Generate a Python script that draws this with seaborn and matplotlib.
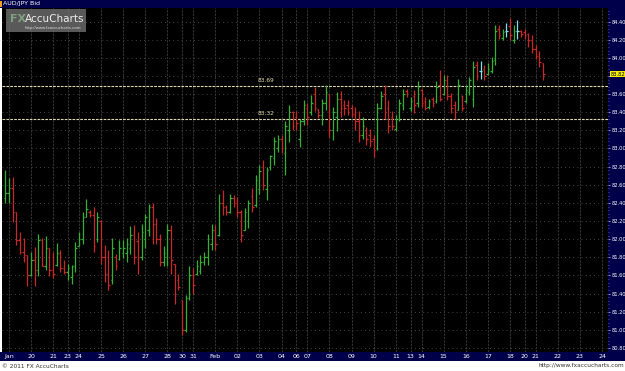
import numpy as np
import pandas as pd
import matplotlib
matplotlib.use("Agg")
import matplotlib.pyplot as plt
from matplotlib.patches import Rectangle
import seaborn as sns

# ---------------- data (AUD/JPY Bid, 4-hour bars) ----------------
highs = [82.76, 82.67, 82.69, 82.30, 82.08, 82.01, 81.83, 81.86, 81.91, 82.06,
         82.01, 82.03, 81.90, 81.86, 81.96, 81.88, 81.77, 81.73, 81.72, 81.97,
         82.08, 82.30, 82.44, 82.32, 82.36, 82.30, 82.21, 81.94, 81.88, 82.01,
         81.84, 81.99, 81.99, 82.01, 82.14, 82.16, 82.08, 82.17, 82.28, 82.39,
         82.40, 82.23, 82.06, 81.92, 82.17, 82.16, 81.73, 81.62, 81.33, 81.39,
         81.70, 81.68, 81.77, 81.83, 81.86, 82.06, 82.17, 82.16, 82.50, 82.54,
         82.38, 82.50, 82.49, 82.47, 82.32, 82.34, 82.43, 82.56, 82.71, 82.82,
         82.87, 82.80, 82.93, 83.13, 83.15, 83.15, 83.30, 83.48, 83.41, 83.41,
         83.33, 83.53, 83.50, 83.59, 83.68, 83.44, 83.55, 83.70, 83.60, 83.46,
         83.62, 83.63, 83.53, 83.53, 83.48, 83.46, 83.41, 83.35, 83.24, 83.22,
         83.15, 83.50, 83.63, 83.70, 83.53, 83.41, 83.37, 83.55, 83.66, 83.66,
         83.57, 83.64, 83.74, 83.66, 83.57, 83.55, 83.57, 83.74, 83.87, 83.81,
         83.81, 83.61, 83.52, 83.77, 83.59, 83.70, 83.79, 83.96, 83.96, 83.96,
         83.92, 83.94, 84.01, 84.36, 84.36, 84.32, 84.38, 84.44, 84.36, 84.42,
         84.31, 84.32, 84.27, 84.25, 84.14, 84.07, 83.94]
lows = [82.40, 82.40, 82.19, 81.94, 81.84, 81.75, 81.48, 81.59, 81.48, 81.59,
        81.70, 81.66, 81.59, 81.57, 81.70, 81.64, 81.62, 81.55, 81.51, 81.64,
        81.92, 81.95, 82.25, 82.25, 81.86, 81.97, 81.73, 81.53, 81.44, 81.51,
        81.66, 81.77, 81.79, 81.75, 81.84, 81.73, 81.62, 81.77, 81.90, 82.03,
        81.95, 81.95, 81.70, 81.70, 81.70, 81.62, 81.28, 81.44, 80.94, 80.98,
        81.33, 81.40, 81.61, 81.62, 81.72, 81.72, 81.88, 81.88, 82.03, 82.27,
        82.27, 82.29, 82.36, 82.25, 81.97, 82.10, 82.12, 82.30, 82.36, 82.50,
        82.54, 82.43, 82.76, 82.82, 82.96, 82.95, 82.71, 83.07, 83.20, 83.20,
        83.02, 83.26, 83.26, 83.37, 83.41, 83.34, 83.26, 83.42, 83.13, 83.09,
        83.19, 83.35, 83.37, 83.37, 83.35, 83.20, 83.07, 83.11, 83.04, 83.02,
        82.91, 82.98, 83.44, 83.33, 83.17, 83.20, 83.19, 83.30, 83.42, 83.57,
        83.41, 83.39, 83.46, 83.46, 83.42, 83.44, 83.46, 83.50, 83.52, 83.59,
        83.53, 83.39, 83.33, 83.42, 83.41, 83.50, 83.59, 83.46, 83.76, 83.77,
        83.76, 83.81, 83.83, 83.92, 84.21, 84.20, 84.23, 84.20, 84.16, 84.21,
        84.23, 84.21, 84.12, 84.05, 83.99, 83.90, 83.76]
opens = [82.45, 82.51, 82.56, 82.30, 81.99, 81.86, 81.83, 81.60, 81.77, 81.66,
         81.99, 81.70, 81.90, 81.66, 81.72, 81.85, 81.68, 81.64, 81.58, 81.70,
         81.92, 82.00, 82.25, 82.30, 82.27, 82.00, 82.20, 81.80, 81.62, 81.55,
         81.80, 81.78, 81.85, 81.85, 81.90, 82.05, 81.98, 81.80, 82.00, 82.10,
         82.35, 82.17, 82.00, 81.75, 81.80, 82.10, 81.73, 81.55, 81.33, 81.00,
         81.35, 81.60, 81.62, 81.65, 81.75, 81.80, 81.95, 82.10, 82.05, 82.40,
         82.35, 82.30, 82.45, 82.42, 82.30, 82.10, 82.20, 82.48, 82.38, 82.55,
         82.80, 82.55, 82.80, 82.90, 83.00, 83.10, 82.95, 83.20, 83.40, 83.35,
         83.10, 83.30, 83.45, 83.40, 83.60, 83.44, 83.37, 83.50, 83.60, 83.20,
         83.35, 83.55, 83.48, 83.48, 83.45, 83.38, 83.30, 83.15, 83.20, 83.15,
         83.10, 83.00, 83.45, 83.60, 83.45, 83.35, 83.22, 83.32, 83.48, 83.63,
         83.45, 83.58, 83.50, 83.65, 83.52, 83.46, 83.55, 83.52, 83.70, 83.60,
         83.75, 83.58, 83.48, 83.42, 83.58, 83.52, 83.62, 83.55, 83.92, 83.85,
         83.88, 83.82, 83.85, 83.98, 84.32, 84.22, 84.30, 84.35, 84.20, 84.30,
         84.30, 84.28, 84.26, 84.20, 84.10, 84.02, 83.94]
closes = [82.51, 82.56, 82.30, 81.99, 81.86, 81.83, 81.60, 81.77, 81.66, 81.99,
          81.70, 81.90, 81.66, 81.62, 81.85, 81.68, 81.64, 81.68, 81.70, 81.90,
          82.00, 82.25, 82.33, 82.27, 81.92, 82.25, 81.80, 81.62, 81.50, 81.90,
          81.70, 81.90, 81.90, 81.95, 82.05, 81.80, 81.80, 82.08, 82.25, 82.35,
          82.17, 82.00, 81.75, 81.85, 82.10, 81.77, 81.40, 81.47, 81.00, 81.35,
          81.60, 81.50, 81.70, 81.75, 81.80, 82.00, 82.10, 81.95, 82.40, 82.35,
          82.30, 82.45, 82.40, 82.30, 82.05, 82.30, 82.40, 82.35, 82.65, 82.75,
          82.60, 82.76, 82.92, 83.08, 83.10, 83.00, 83.25, 83.40, 83.25, 83.28,
          83.30, 83.48, 83.35, 83.50, 83.45, 83.37, 83.50, 83.62, 83.20, 83.40,
          83.55, 83.45, 83.45, 83.40, 83.38, 83.30, 83.15, 83.25, 83.10, 83.08,
          82.98, 83.45, 83.58, 83.40, 83.25, 83.25, 83.33, 83.50, 83.60, 83.60,
          83.52, 83.48, 83.68, 83.50, 83.45, 83.52, 83.50, 83.68, 83.55, 83.75,
          83.58, 83.45, 83.40, 83.70, 83.45, 83.65, 83.75, 83.90, 83.80, 83.85,
          83.80, 83.88, 83.97, 84.30, 84.25, 84.28, 84.30, 84.25, 84.30, 84.30,
          84.26, 84.25, 84.20, 84.10, 84.02, 83.95, 83.82]

day_labels = ["Jan", "20", "21", "23", "24", "25", "26", "27", "28", "30", "31",
              "Feb", "02", "03", "04", "06", "07", "08", "09", "10", "11", "13",
              "14", "15", "16", "17", "18", "20", "21", "22", "23", "24"]
bars_per_session = [6, 6, 4, 3, 6, 6, 6, 6, 4, 3, 6, 6, 6, 6, 4, 3, 6, 6, 6, 6,
                    4, 3, 6, 6, 6, 6, 4, 3, 6, 6, 6]
level_lines = [83.69, 83.32]
last_price = 83.82
price_ticks = [80.80, 81.00, 81.20, 81.40, 81.60, 81.80, 82.00, 82.20, 82.40,
               82.60, 82.80, 83.00, 83.20, 83.40, 83.60, 83.80, 84.00, 84.20, 84.40]

df = pd.DataFrame({"open": opens, "high": highs, "low": lows, "close": closes})
df["idx"] = np.arange(len(df))
tick_pos = 1 + np.concatenate([[0], np.cumsum(bars_per_session)])

# ---------------- style ----------------
sns.set_theme(style="dark")
plt.rcParams["font.family"] = ["DejaVu Sans"]

NAVY = "#00004a"
GREEN = "#35b035"
RED = "#c82828"
CYAN = "#7fe0ea"

fig = plt.figure(figsize=(6.25, 3.71), dpi=100)
fig.patch.set_facecolor("white")
W, H = 625.0, 371.0

def fx(px):
    return px / W

def fy(py):
    return 1 - py / H

# navy frame bands (header, right axis, bottom axis)
fig.add_artist(Rectangle((0, fy(8)), 1, 8 / H, transform=fig.transFigure,
                         facecolor=NAVY, edgecolor="none", zorder=0))
fig.add_artist(Rectangle((fx(608), fy(361)), 17 / W, 353 / H, transform=fig.transFigure,
                         facecolor=NAVY, edgecolor="none", zorder=0))
fig.add_artist(Rectangle((0, fy(361)), 1, 9.5 / H, transform=fig.transFigure,
                         facecolor=NAVY, edgecolor="none", zorder=0))

ax = fig.add_axes([fx(2), fy(352), (608 - 2) / W, (352 - 8) / H])
ax.set_facecolor("black")

# grid
for t in price_ticks:
    ax.axhline(t, color="#5a5a5a", lw=0.6, ls=(0, (1, 4)), zorder=1)
for t in tick_pos:
    ax.axvline(t, color="#333333", lw=0.8, ls=(0, (2, 1)), zorder=1)

# OHLC bars
colors = np.where(df["close"] > df["open"], GREEN,
                  np.where(df["close"] < df["open"], RED, CYAN))
ax.vlines(df["idx"], df["low"], df["high"], colors=colors, lw=0.9, zorder=3)
ax.hlines(df["open"], df["idx"] - 0.42, df["idx"], colors=colors, lw=0.9, zorder=3)
ax.hlines(df["close"], df["idx"], df["idx"] + 0.42, colors=colors, lw=0.9, zorder=3)

# level lines
for lv in level_lines:
    ax.axhline(lv, color="#d9d6b0", lw=0.8, ls=(0, (2.5, 1)), zorder=2)
    ax.text(68.5, lv + 0.035, f"{lv:.2f}", color="#e6e2a8", fontsize=4.2,
            ha="left", va="bottom", zorder=4)

ax.set_xlim(-0.87, 163.6)
ax.set_ylim(80.756, 84.549)

# axes ticks / labels (the 83.80 label is hidden behind the last-price marker)
ax.yaxis.tick_right()
ax.set_yticks(price_ticks)
ax.set_yticklabels(["" if abs(t - 83.80) < 1e-6 else f"{t:.2f}" for t in price_ticks])
ax.set_yticks(np.arange(80.80, 84.55, 0.04), minor=True)
ax.tick_params(axis="y", which="major", colors="#d0d0ff", labelcolor="white",
               labelsize=3.7, length=1.5, width=0.5, pad=0.8, direction="out")
ax.tick_params(axis="y", which="minor", colors="#9090c0", length=0.8, width=0.4,
               direction="out")
ax.set_xticks(tick_pos)
ax.set_xticklabels(day_labels)
ax.tick_params(axis="x", labelcolor="white", labelsize=4.5, length=0, pad=1.6)
ax.grid(False)
for s in ax.spines.values():
    s.set_visible(False)
ax.set_xlabel("")
ax.set_ylabel("")

# last price marker
ax.annotate(f"{last_price:.2f}", xy=(1.0, last_price), xycoords=("axes fraction", "data"),
            xytext=(1.6, 0), textcoords="offset points", fontsize=3.7, color="black",
            va="center", ha="left", annotation_clip=False, zorder=10,
            bbox=dict(boxstyle="square,pad=0.12", facecolor="#f4f000", edgecolor="none"))

# header
fig.add_artist(Rectangle((0, fy(7)), 2 / W, 6 / H, transform=fig.transFigure,
                         facecolor="#f0a020", edgecolor="none"))
fig.text(fx(3), fy(4), "AUD/JPY Bid", color="white", fontsize=4.5, va="center", ha="left")

# logo
fig.add_artist(Rectangle((fx(6), fy(32)), 80 / W, 23 / H, transform=fig.transFigure,
                         facecolor="#6a6a6a", edgecolor="none", alpha=0.85, zorder=5))
fig.text(fx(10), fy(19), "FX", color="#7fa07f", fontsize=8, fontweight="bold",
         va="center", ha="left", zorder=6)
fig.text(fx(25), fy(19), "AccuCharts", color="#eeeeee", fontsize=7.5,
         va="center", ha="left", zorder=6)
fig.text(fx(25), fy(28), "http://www.fxaccucharts.com", color="#dddddd", fontsize=2.8,
         va="center", ha="left", zorder=6)

# footer
fig.text(fx(2), fy(366), "\u00a9 2011 FX AccuCharts", color="#333333", fontsize=4.2,
         va="center", ha="left")
fig.text(fx(624), fy(366), "http://www.fxaccucharts.com", color="#333333", fontsize=4.2,
         va="center", ha="right")

fig.savefig("out.png", dpi=100, facecolor="white")
